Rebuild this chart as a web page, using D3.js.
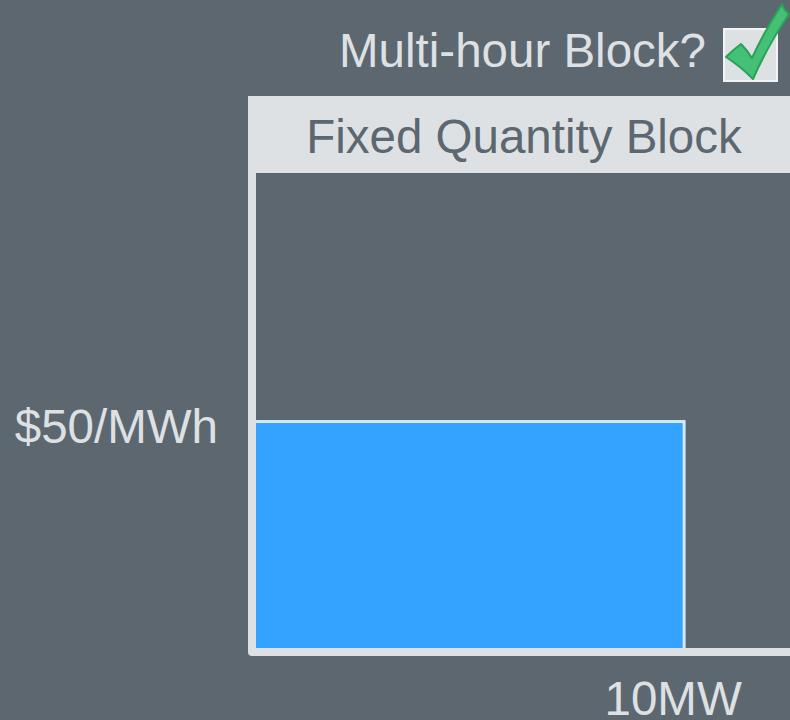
<!DOCTYPE html>
<html>
<head>
<meta charset="utf-8">
<script src="https://cdn.jsdelivr.net/npm/d3@7"></script>
<style>
  html, body { margin: 0; padding: 0; background: #5c6770; }
  svg { display: block; font-family: "Liberation Sans", Arial, sans-serif; }
</style>
</head>
<body>
<svg id="chart" width="790" height="720"></svg>
<script>
// block offer data
const prices = [50]          // $/MWh
const quantities = [10]      // MW
const priceLabels = ["$50/MWh"]
const quantityLabels = ["10MW"]
const title = "Fixed Quantity Block"
const question = "Multi-hour Block?"

const width = 790,
    height = 720

const bg = "#5c6770",
    light = "#dee1e4"

const svg = d3.select("#chart")

svg.append("rect")
    .attr("width", width)
    .attr("height", height)
    .attr("fill", bg)

const x = d3.scaleLinear()
    .domain([0, 12.45])
    .range([252, 790])

const y = d3.scaleLinear()
    .domain([0, 103.7])
    .range([652, 173])

// header band
svg.append("rect")
    .attr("x", 248)
    .attr("y", 96)
    .attr("width", width - 248)
    .attr("height", 77)
    .attr("fill", light)

svg.append("text")
    .attr("x", 524)
    .attr("y", 153)
    .attr("text-anchor", "middle")
    .attr("font-size", 47.5)
    .attr("fill", bg)
    .text(title)

// bars
svg.append("g")
    .selectAll("rect")
    .data(prices)
    .enter()
    .append("rect")
    .attr("x", x(0) + 2.5)
    .attr("y", function (d) { return y(d) + 0.5 })
    .attr("width", function (d, i) { return x(quantities[i]) - x(0) - 2.5 })
    .attr("height", function (d) { return y(0) - y(d) })
    .attr("fill", "#33a3ff")
    .attr("stroke", "#d2e8fb")
    .attr("stroke-width", 3)

// axes (plain thick lines)
svg.append("path")
    .attr("d", `M${x(0)},${y(103.7)} L${x(0)},${y(0)} L${width + 10},${y(0)}`)
    .attr("fill", "none")
    .attr("stroke", light)
    .attr("stroke-width", 8)
    .attr("stroke-linejoin", "round")

// value labels
svg.append("g")
    .selectAll("text")
    .data(prices)
    .enter()
    .append("text")
    .attr("x", 218)
    .attr("y", function (d) { return y(d) + 22 })
    .attr("text-anchor", "end")
    .attr("font-size", 47.5)
    .attr("fill", light)
    .text(function (d, i) { return priceLabels[i] })

svg.append("g")
    .selectAll("text")
    .data(quantities)
    .enter()
    .append("text")
    .attr("x", function (d) { return x(d) - 11 })
    .attr("y", 715)
    .attr("text-anchor", "middle")
    .attr("font-size", 47.5)
    .attr("fill", light)
    .text(function (d, i) { return quantityLabels[i] })

// question + checkbox
svg.append("text")
    .attr("x", 706)
    .attr("y", 67)
    .attr("text-anchor", "end")
    .attr("font-size", 47.5)
    .attr("fill", light)
    .text(question)

svg.append("rect")
    .attr("x", 724)
    .attr("y", 29)
    .attr("width", 53)
    .attr("height", 52)
    .attr("fill", light)
    .attr("stroke", "#f2f3f4")
    .attr("stroke-width", 2)

svg.append("path")
    .attr("d", "M726,57 Q734,49 741,44 Q747,50 752,58 Q765,30 782,4 Q784,10 789,14 Q768,45 753,79 Q740,66 726,57 Z")
    .attr("fill", "#45c077")
    .attr("stroke", "#27a257")
    .attr("stroke-width", 2)
    .attr("stroke-linejoin", "round")
</script>
</body>
</html>
